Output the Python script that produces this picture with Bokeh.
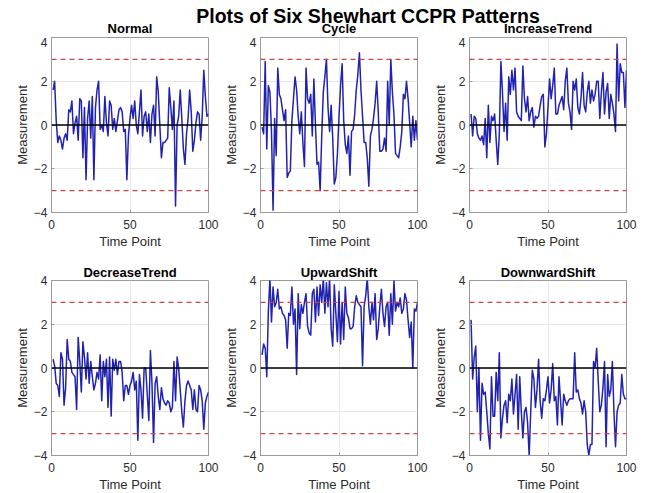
from bokeh.plotting import figure
from bokeh.models import Span, Label, Range1d
from bokeh.layouts import column, row
from bokeh.embed import file_html
from bokeh.resources import INLINE

# ---------------- data ----------------
time_points = list(range(1, 101))

normal = [1.6, 2.0, 0.2, -0.8, -0.5, -0.7, -1.1, -0.6, -0.4, -0.7,
          0.7, 0.6, 1.1, -0.4, 0.1, 0.4, -0.7, 1.2, 1.1, -1.5,
          0.8, -2.5, 0.3, 1.1, -0.6, 1.3, -2.5, 0.8, 1.6, 2.0,
          -0.2, 0.0, -0.3, 1.3, 0.1, -0.5, 1.1, 0.9, -0.2, 0.3,
          -0.3, 0.2, 0.7, 0.8, 0.6, -0.3, -0.2, -2.5, -0.5, 0.3,
          0.9, 0.3, 1.1, 0.0, -0.4, 0.6, 1.6, -0.5, 0.4, 0.6,
          -0.3, 0.5, -0.8, 0.5, 0.9, -0.5, 2.2, 1.5, 0.0, -1.5,
          -0.8, -0.8, -0.7, -0.6, 1.7, 0.8, -0.2, 1.1, -3.7, 0.0,
          0.4, 1.6, 0.3, -1.1, -1.8, -0.4, 0.3, 1.6, 0.6, -1.2,
          -0.7, 0.1, 0.6, 0.5, -0.7, 0.4, 2.5, 1.3, 0.4, 0.5]

cycle = [-0.1, -0.4, 2.9, -1.1, 1.8, 1.5, -0.3, -3.9, 0.3, -1.4,
         2.6, 1.4, 1.2, 0.7, 0.2, 0.7, -2.4, -2.2, -2.1, 0.2,
         1.2, 2.2, 1.6, 0.4, -0.4, 0.6, -0.8, -1.9, 2.6, 1.2,
         1.0, 1.4, -0.5, 2.1, 0.0, -1.8, -1.7, -3.0, -0.5, 1.5,
         2.2, 3.0, 0.8, -0.3, 0.9, -0.6, -2.7, -2.4, -1.3, 0.4,
         1.8, 2.8, 0.2, -0.9, -1.3, -0.5, -2.3, -0.3, -0.2, 0.5,
         1.6, 2.3, 3.3, 1.6, 0.4, -0.8, -0.8, -1.5, -2.8, -0.5,
         -0.2, 0.3, 1.0, 2.0, 0.6, -1.2, -1.2, -1.1, -0.6, -1.2,
         2.0, 0.0, 3.0, 1.5, 0.5, -1.3, -1.4, -1.5, -1.0, -0.3,
         1.4, 1.2, 2.0, 1.2, 0.1, -1.0, 0.4, -0.7, 0.2, -0.7]

increase_trend = [0.5, -0.5, 0.4, 0.3, -0.4, -0.6, -0.7, -0.5, -0.9, 0.3,
                  -1.5, 0.9, -0.8, 0.4, 0.2, 0.5, -0.7, -1.8, -0.4, 2.9,
                  1.5, -0.3, 1.0, -0.7, 2.2, 1.4, 2.5, 1.6, 2.6, 0.6,
                  0.4, 0.3, 0.2, 2.7, 1.2, 0.6, 1.3, 0.2, 0.6, 0.8,
                  -0.1, 0.4, 0.3, 0.4, 0.9, 1.3, 1.4, -1.0, -0.4, 0.8,
                  2.1, 1.2, 1.8, 2.6, 0.5, 0.5, 0.9, 1.1, 1.3, 0.7,
                  2.0, 2.6, 1.0, 0.6, -0.2, 2.0, 1.6, 2.1, 0.8, 0.5,
                  1.2, 2.4, 0.9, 0.6, 1.5, 2.0, 1.0, 1.6, 1.1, 1.4,
                  2.0, 2.0, 0.3, 1.5, 2.4, 0.5, 1.5, 1.9, 0.3, 1.4,
                  1.0, 0.5, -0.3, 3.7, 1.1, 2.8, 2.4, 2.4, 0.8, 2.5]

decrease_trend = [0.4, 0.1, -0.7, -0.8, -1.3, 0.7, 0.4, -1.7, -0.9, 1.3,
                  0.4, 0.3, -0.2, -0.3, -0.4, -1.9, 1.4, 0.3, -1.1, 1.2,
                  0.5, -0.5, 0.7, -0.7, 0.3, -0.4, -1.0, -0.7, -0.2, -0.5,
                  0.6, -1.5, 0.3, -0.4, 0.4, -1.8, 0.5, -2.2, 0.4, -0.1,
                  0.4, -0.3, 0.3, 0.3, -0.2, -1.5, -0.8, -0.8, -1.2, -0.8,
                  -0.6, -0.2, -1.0, -0.6, -3.3, -0.3, -1.0, -2.3, 0.0, 0.0,
                  -1.2, -2.4, 0.8, -0.7, -3.4, -0.7, -0.4, -1.3, -1.9, -0.9,
                  -1.4, -1.6, -1.7, -1.5, -1.6, -2.0, -1.8, 0.3, -1.5, 0.5,
                  0.0, -1.0, -2.0, -2.7, -1.5, -0.8, -0.6, -0.8, -1.0, -1.9,
                  -1.0, -1.9, -2.0, -0.8, -1.0, -1.5, -2.8, -1.6, -1.3, -1.1]

upward_shift = [0.6, 1.1, 0.9, -0.4, 2.6, 4.1, 2.1, 3.7, 2.8, 3.0,
                3.6, 2.7, 2.8, 2.5, 2.4, 2.2, 0.9, 2.5, 2.4, 3.7,
                2.0, 2.7, -0.3, 3.4, 1.8, 2.9, 2.5, 3.0, 3.4, 1.9,
                1.6, 1.5, 3.4, 3.6, 2.1, 3.7, 2.4, 3.8, 3.0, 4.1,
                2.5, 3.9, 2.8, 4.1, 1.8, 1.0, 3.8, 2.5, 1.2, 3.5,
                1.1, 3.0, 1.3, 3.7, 2.5, 2.3, 1.8, 1.8, 1.9, 2.8,
                3.3, 3.0, 2.9, 2.8, 0.1, 2.8, 3.3, 4.1, 2.8, 2.0,
                3.0, 2.2, 3.4, 1.3, 1.8, 2.8, 3.6, 2.5, 1.9, 2.8,
                3.0, 1.5, 3.4, 2.0, 4.0, 2.6, 3.0, 2.8, 3.2, 2.5,
                2.7, 3.4, 3.1, 2.2, 1.4, 2.1, 0.0, 2.7, 2.6, 3.0]

downward_shift = [2.2, -0.5, 0.5, 1.0, -2.0, 0.0, -3.3, -0.7, -1.2, -1.1,
                  -2.0, -3.0, -3.7, -0.4, -2.2, -2.2, -0.2, -1.5, 0.7, -3.2,
                  -2.3, -1.7, -1.5, -2.5, -1.2, -1.5, -0.5, -2.1, -1.2, -0.3,
                  -2.8, -0.4, -2.0, -3.2, -2.0, -1.8, -2.5, -4.0, -2.0, -0.1,
                  -0.5, -1.8, -1.0, 0.4, -1.5, -2.3, -1.4, -1.5, -1.0, -0.4,
                  -1.6, -1.0, 0.2, -1.5, -1.3, -2.6, -0.4, -1.5, -2.6, -1.2,
                  -1.5, -1.7, -1.5, -1.4, -1.4, -1.4, 0.7, -1.1, -1.0, -1.4,
                  -1.6, -2.1, -1.5, -2.0, -3.5, -4.0, -3.5, -3.5, 0.3, 0.0,
                  0.9, -0.6, -2.0, -1.7, -0.9, 0.3, -3.6, -0.3, -1.3, -1.0,
                  0.3, -2.0, -3.6, -2.0, -1.7, -1.6, -0.3, -1.2, -1.4, -1.4]

pattern_names = ["Normal", "Cycle", "IncreaseTrend",
                 "DecreaseTrend", "UpwardShift", "DownwardShift"]
pattern_values = [normal, cycle, increase_trend,
                  decrease_trend, upward_shift, downward_shift]

center_line = 0
control_limits = [3, -3]
x_ticks = [0, 50, 100]
y_ticks = [-4, -2, 0, 2, 4]
x_limits = (0, 100)
y_limits = (-4, 4)
main_title = "Plots of Six Shewhart CCPR Patterns"

# ---------------- style / layout ----------------
FONT = "Liberation Sans"
LINE_BLUE = "#2222b0"
FRAME_GRAY = "#9a9a9a"
TEXT_GRAY = "#2b2b2b"

FRAME_W, FRAME_H = 157, 175
FIRST_LEFT, LEFT, RIGHT = 51, 40, 12
STRIP_H = 37
COL_W = LEFT + FRAME_W + RIGHT


def make_panel(name, values, col, top_row):
    p = figure(frame_width=FRAME_W, frame_height=FRAME_H,
               x_range=Range1d(*x_limits), y_range=Range1d(*y_limits),
               output_backend="svg", toolbar_location=None,
               min_border_left=FIRST_LEFT if col == 0 else LEFT,
               min_border_right=RIGHT,
               min_border_top=0 if top_row else 29,
               min_border_bottom=38,
               title=None if top_row else name)
    if not top_row:
        p.title.align = "center"
        p.title.text_font = FONT
        p.title.text_font_size = "13px"
        p.title.text_font_style = "bold"
        p.title.text_color = "black"
        p.title.standoff = 1

    p.line(time_points, values, line_color=LINE_BLUE, line_width=1.5,
           line_join="round")

    p.add_layout(Span(location=center_line, dimension="width",
                      line_color="black", line_width=1.3))
    for lim in control_limits:
        p.add_layout(Span(location=lim, dimension="width",
                          line_color="#cf4343", line_width=1.2,
                          line_dash="5 4"))

    p.xaxis.ticker = x_ticks
    p.yaxis.ticker = y_ticks
    p.grid.grid_line_color = "#e6e6e6"
    p.grid.grid_line_width = 1

    p.outline_line_color = FRAME_GRAY
    p.outline_line_width = 1
    p.axis.axis_line_color = FRAME_GRAY
    p.axis.major_tick_in = 3
    p.axis.major_tick_out = 0
    p.axis.major_tick_line_color = FRAME_GRAY
    p.axis.minor_tick_line_color = None
    p.axis.major_label_text_font = FONT
    p.axis.major_label_text_font_size = "12px"
    p.axis.major_label_text_color = TEXT_GRAY
    p.xaxis.major_label_standoff = 7
    p.yaxis.major_label_standoff = 4
    p.axis.axis_label_text_font = FONT
    p.axis.axis_label_text_font_size = "13px"
    p.axis.axis_label_text_font_style = "normal"
    p.axis.axis_label_text_color = TEXT_GRAY
    p.xaxis.axis_label = "Time Point"
    p.yaxis.axis_label = "Measurement"
    p.xaxis.axis_label_standoff = 2
    p.yaxis.axis_label_standoff = 1
    return p


panels = [make_panel(n, v, i % 3, i < 3)
          for i, (n, v) in enumerate(zip(pattern_names, pattern_values))]

# title strip: overall title + titles of the top row of panels
TOTAL_W = FIRST_LEFT - LEFT + 3 * COL_W
strip = figure(width=TOTAL_W, height=STRIP_H, title=None,
               x_range=Range1d(0, TOTAL_W), y_range=Range1d(0, STRIP_H),
               min_border=0, toolbar_location=None, output_backend="svg",
               x_axis_location=None, y_axis_location=None,
               outline_line_color=None)
strip.xgrid.visible = False
strip.ygrid.visible = False
# positions are distances (px) from the strip's top edge, converted to y
strip.add_layout(Label(x=367.5, y=STRIP_H - 15, text=main_title,
                       text_align="center", text_baseline="middle",
                       text_font=FONT, text_font_size="19.5px",
                       text_font_style="bold", text_color="black"))
for c in range(3):
    cx = FIRST_LEFT + c * COL_W + FRAME_W / 2
    strip.add_layout(Label(x=cx, y=STRIP_H - 27.5, text=pattern_names[c],
                           text_align="center", text_baseline="middle",
                           text_font=FONT, text_font_size="13px",
                           text_font_style="bold", text_color="black"))

layout = column(strip,
                row(*panels[:3], spacing=0),
                row(*panels[3:], spacing=0),
                spacing=0)

with open("out.html", "w") as f:
    f.write(file_html(layout, INLINE))
